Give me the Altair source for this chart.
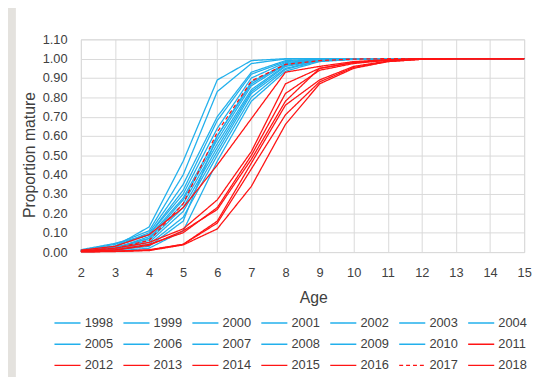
import altair as alt
import pandas as pd

ages = list(range(2, 16))
years = [str(y) for y in range(1998, 2019)]

# proportion mature by age (2..15), one list per year
m1998 = [0.006, 0.025, 0.070, 0.270, 0.580, 0.860, 0.970, 0.993, 0.999, 1.0, 1.0, 1.0, 1.0, 1.0]
m1999 = [0.010, 0.030, 0.130, 0.470, 0.890, 0.990, 1.000, 1.000, 1.000, 1.0, 1.0, 1.0, 1.0, 1.0]
m2000 = [0.008, 0.030, 0.090, 0.300, 0.640, 0.900, 0.980, 0.995, 0.999, 1.0, 1.0, 1.0, 1.0, 1.0]
m2001 = [0.005, 0.020, 0.060, 0.230, 0.540, 0.830, 0.960, 0.990, 0.998, 1.0, 1.0, 1.0, 1.0, 1.0]
m2002 = [0.010, 0.040, 0.110, 0.400, 0.830, 0.975, 0.998, 1.000, 1.000, 1.0, 1.0, 1.0, 1.0, 1.0]
m2003 = [0.002, 0.005, 0.020, 0.110, 0.470, 0.780, 0.935, 0.985, 0.996, 1.0, 1.0, 1.0, 1.0, 1.0]
m2004 = [0.008, 0.020, 0.080, 0.280, 0.600, 0.870, 0.975, 0.995, 0.999, 1.0, 1.0, 1.0, 1.0, 1.0]
m2005 = [0.010, 0.030, 0.100, 0.350, 0.700, 0.930, 0.990, 0.998, 1.000, 1.0, 1.0, 1.0, 1.0, 1.0]
m2006 = [0.004, 0.012, 0.040, 0.180, 0.500, 0.800, 0.945, 0.988, 0.997, 1.0, 1.0, 1.0, 1.0, 1.0]
m2007 = [0.012, 0.045, 0.090, 0.320, 0.680, 0.920, 0.985, 0.997, 1.000, 1.0, 1.0, 1.0, 1.0, 1.0]
m2008 = [0.005, 0.020, 0.070, 0.250, 0.560, 0.840, 0.965, 0.992, 0.998, 1.0, 1.0, 1.0, 1.0, 1.0]
m2009 = [0.003, 0.010, 0.030, 0.160, 0.600, 0.880, 0.970, 0.990, 0.998, 1.0, 1.0, 1.0, 1.0, 1.0]
m2010 = [0.005, 0.015, 0.050, 0.210, 0.520, 0.820, 0.950, 0.990, 0.998, 1.0, 1.0, 1.0, 1.0, 1.0]
m2011 = [0.010, 0.030, 0.090, 0.230, 0.450, 0.690, 0.930, 0.960, 0.985, 0.995, 1.0, 1.0, 1.0, 1.0]
m2012 = [0.006, 0.020, 0.050, 0.120, 0.270, 0.520, 0.870, 0.950, 0.980, 0.993, 0.999, 1.0, 1.0, 1.0]
m2013 = [0.004, 0.012, 0.040, 0.100, 0.230, 0.500, 0.820, 0.940, 0.975, 0.992, 0.999, 1.0, 1.0, 1.0]
m2014 = [0.004, 0.010, 0.035, 0.110, 0.220, 0.480, 0.780, 0.950, 0.980, 0.993, 0.999, 1.0, 1.0, 1.0]
m2015 = [0.002, 0.004, 0.010, 0.040, 0.160, 0.460, 0.760, 0.890, 0.960, 0.988, 0.998, 1.0, 1.0, 1.0]
m2016 = [0.002, 0.004, 0.012, 0.040, 0.150, 0.430, 0.710, 0.880, 0.955, 0.985, 0.997, 1.0, 1.0, 1.0]
m2017 = [0.008, 0.020, 0.060, 0.250, 0.620, 0.885, 0.970, 0.990, 0.998, 1.0, 1.0, 1.0, 1.0, 1.0]
m2018 = [0.001, 0.003, 0.008, 0.037, 0.120, 0.340, 0.660, 0.870, 0.950, 0.985, 0.997, 1.0, 1.0, 1.0]

series = [m1998, m1999, m2000, m2001, m2002, m2003, m2004, m2005, m2006, m2007,
          m2008, m2009, m2010, m2011, m2012, m2013, m2014, m2015, m2016, m2017, m2018]

y_ticks = [0.0, 0.1, 0.2, 0.3, 0.4, 0.5, 0.6, 0.7, 0.8, 0.9, 1.0, 1.1]

rows = []
for yr, vals in zip(years, series):
    for a, v in zip(ages, vals):
        rows.append({"Age": a, "Year": yr, "Value": v})
df = pd.DataFrame(rows)

BLUE = "#22b0ec"
RED = "#ff1414"
color_range = [BLUE] * 13 + [RED] * 8
dash_range = [[1, 0]] * 21
dash_range[years.index("2017")] = [4, 3]

FONT = "Liberation Sans"
TXT = "#404040"
GRID = "#d9d9d9"

# light grey strip at the left page edge (decoration)
strip = alt.Chart(alt.Data(values=[{"k": 1}])).mark_rect(color="#e4e2de").encode(
    x=alt.value(-80), x2=alt.value(-66), y=alt.value(-40), y2=alt.value(420)
)

leg = dict(title=None, orient="none", legendX=-27.6, legendY=281, columns=7,
           direction="horizontal", symbolType="stroke", symbolSize=700,
           symbolStrokeWidth=1.5, labelFont=FONT, labelFontSize=13,
           labelColor=TXT, labelOffset=3.4, columnPadding=9, rowPadding=7.5,
           clipHeight=14)

lines = alt.Chart(df).mark_line(strokeWidth=1.3).encode(
    x=alt.X("Age:Q",
            scale=alt.Scale(domain=[2, 15], nice=False, zero=False),
            axis=alt.Axis(values=ages, format="d", grid=True, gridColor=GRID,
                          domain=False, ticks=False, labelPadding=15,
                          labelFlush=False, labelOverlap=False,
                          labelFont=FONT, labelFontSize=13, labelColor=TXT,
                          title="Age", titleFont=FONT, titleFontSize=16,
                          titleFontWeight="normal", titleColor=TXT,
                          titleX=236, titleY=46, titleBaseline="middle",
                          titleAlign="center")),
    y=alt.Y("Value:Q",
            scale=alt.Scale(domain=[0, 1.1], nice=False),
            axis=alt.Axis(values=y_ticks, format=".2f", grid=True, gridColor=GRID,
                          domain=False, ticks=False, labelPadding=14,
                          labelFlush=False, labelOverlap=False,
                          labelFont=FONT, labelFontSize=13, labelColor=TXT,
                          title="Proportion mature", titleFont=FONT, titleFontSize=16,
                          titleFontWeight="normal", titleColor=TXT,
                          titleX=-52, titleY=117, titleBaseline="middle",
                          titleAlign="center", titleAngle=270)),
    color=alt.Color("Year:N",
                    scale=alt.Scale(domain=years, range=color_range),
                    legend=alt.Legend(**leg)),
    strokeDash=alt.StrokeDash("Year:N",
                              scale=alt.Scale(domain=years, range=dash_range),
                              legend=alt.Legend(**leg)),
    detail="Year:N",
)

chart = alt.layer(strip, lines).properties(
    width=450,
    height=216,
    autosize=alt.AutoSizeParams(type="none"),
    padding={"left": 74, "top": 29, "right": 9, "bottom": 124},
    background="white",
).configure_view(stroke=GRID, strokeWidth=1)

chart.save("out.html", embed_options={"renderer": "svg", "actions": False})
